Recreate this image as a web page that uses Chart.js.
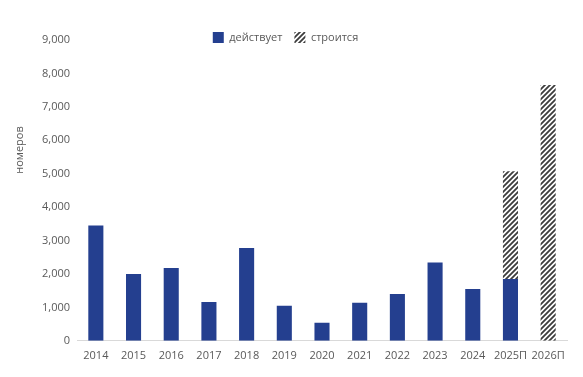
<!DOCTYPE html>
<html>
<head>
<meta charset="utf-8">
<script src="https://cdn.jsdelivr.net/npm/chart.js@4/dist/chart.umd.min.js"></script>
<style>
  html, body { margin: 0; padding: 0; background: #fff; }
  #wrap { width: 583px; height: 377px; }
</style>
</head>
<body>
<div id="wrap"><canvas id="chart"></canvas></div>
<script>
const years = ['2014', '2015', '2016', '2017', '2018', '2019', '2020', '2021', '2022', '2023', '2024', '2025П', '2026П']
const active = [3450, 2000, 2180, 1160, 2780, 1050, 540, 1140, 1400, 2340, 1550, 1850, null]
const building = [null, null, null, null, null, null, null, null, null, null, null, 3220, 7650]
const yTicks = [0, 1000, 2000, 3000, 4000, 5000, 6000, 7000, 8000, 9000]

const BLUE = '#243f8f'
const TEXT = '#595959'
const SHIFT = 13

function hatch() {
  const c = document.createElement('canvas')
  c.width = 5
  c.height = 5
  const x = c.getContext('2d')
  x.fillStyle = '#fff'
  x.fillRect(0, 0, 5, 5)
  x.strokeStyle = '#3c3c3c'
  x.lineWidth = 1.8
  x.beginPath()
  x.moveTo(-1, 6); x.lineTo(6, -1)
  x.moveTo(-1, 1); x.lineTo(1, -1)
  x.moveTo(4, 6); x.lineTo(6, 4)
  x.stroke()
  return x.createPattern(c, 'repeat')
}

Chart.defaults.font.family = '"Open Sans", sans-serif'
Chart.defaults.font.size = 11
Chart.defaults.color = TEXT

// let the legend overlap the top of the plot, like the original
const legendShift = {
  id: 'legendShift',
  beforeInit(chart) {
    const lg = chart.legend
    const fit = lg.fit
    lg.fit = function () {
      fit.call(this)
      this.height -= SHIFT
    }
    const draw = lg.draw
    lg.draw = function () {
      this.bottom += SHIFT
      this.height += SHIFT
      this.ctx.save()
      this.ctx.translate(-13, 0)
      draw.call(this)
      this.ctx.restore()
      this.bottom -= SHIFT
      this.height -= SHIFT
    }
  },
}

const yTitle = {
  id: 'yTitle',
  afterDraw(chart) {
    const ctx = chart.ctx
    ctx.save()
    ctx.translate(20, 150)
    ctx.rotate(-Math.PI / 2)
    ctx.font = '11px "Open Sans", sans-serif'
    ctx.fillStyle = TEXT
    ctx.textAlign = 'center'
    ctx.textBaseline = 'middle'
    ctx.fillText('номеров', 0, 0)
    ctx.restore()
  },
}

new Chart(document.getElementById('chart'), {
  type: 'bar',
  data: {
    labels: years,
    datasets: [
      { label: 'действует', data: active, backgroundColor: BLUE },
      { label: 'строится', data: building, backgroundColor: hatch() },
    ],
  },
  options: {
    responsive: true,
    maintainAspectRatio: false,
    animation: false,
    layout: { padding: { top: 20, left: 30, right: 16, bottom: 7 } },
    datasets: { bar: { barPercentage: 0.4, categoryPercentage: 1 } },
    plugins: {
      legend: {
        position: 'top',
        labels: { boxWidth: 11, boxHeight: 11, padding: 12, color: TEXT },
      },
      tooltip: { enabled: false },
    },
    scales: {
      x: {
        stacked: true,
        grid: { display: false, drawTicks: false },
        border: { display: true, color: '#d9d9d9' },
        ticks: { padding: 8, maxRotation: 0, autoSkip: false },
      },
      y: {
        stacked: true,
        min: 0,
        max: 9000,
        afterFit(s) { s.width = 47 },
        afterBuildTicks(s) { s.ticks = yTicks.map(v => ({ value: v })) },
        grid: { display: false, drawTicks: false },
        border: { display: false },
        ticks: { padding: 7, callback: v => v.toLocaleString('en-US') },
      },
    },
  },
  plugins: [legendShift, yTitle],
})
</script>
</body>
</html>
